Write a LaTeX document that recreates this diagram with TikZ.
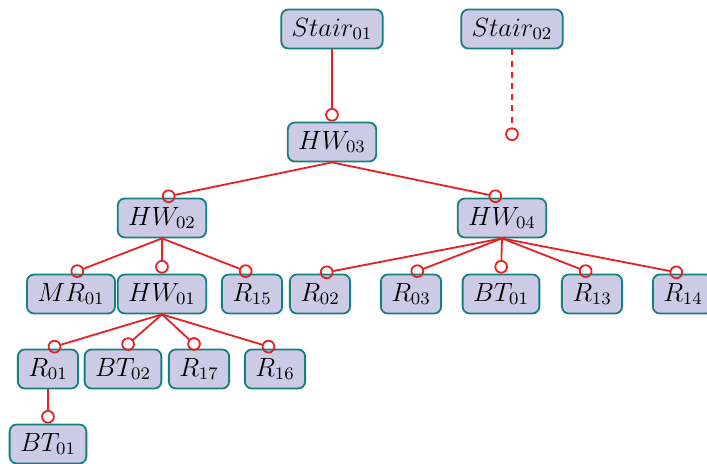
\documentclass[tikz,border=0pt]{standalone}
\usepackage{graphicx}
\usetikzlibrary{arrows.meta}
\definecolor{nodefill}{RGB}{204,202,228}
\definecolor{nodeline}{RGB}{20,128,128}
\definecolor{edgered}{RGB}{232,32,36}
\newcommand\lbl[1]{\scalebox{1.1}{$#1$}}
\begin{document}
\begin{tikzpicture}[x=0.5pt,y=-0.5pt,
  box/.style={draw=nodeline, fill=nodefill, line width=0.9pt, rounded corners=3.5pt,
    minimum height=19.5pt, inner xsep=5.2pt, inner ysep=2pt, font=\large},
  link/.style={draw=edgered, line width=0.9pt, -{Circle[open,length=6.8pt,width=6.8pt,line width=0.9pt]}},
]
\useasboundingbox (0,0) rectangle (707,464);
\node[box] (s1) at (332,29) {\lbl{Stair_{01}}};
\node[box] (s2) at (512,29) {\lbl{Stair_{02}}};
\coordinate (s2e) at (512,141);
\node[box] (hw3) at (332,142) {\lbl{HW_{03}}};
\node[box] (hw2) at (162,218) {\lbl{HW_{02}}};
\node[box] (hw4) at (502,218) {\lbl{HW_{04}}};
\node[box] (mr1) at (71,294) {\lbl{MR_{01}}};
\node[box] (hw1) at (162,294) {\lbl{HW_{01}}};
\node[box] (r15) at (252,294) {\lbl{R_{15}}};
\node[box] (r02) at (320,294) {\lbl{R_{02}}};
\node[box] (r03) at (411,294) {\lbl{R_{03}}};
\node[box] (bt1a) at (501,294) {\lbl{BT_{01}}};
\node[box] (r13) at (592,294) {\lbl{R_{13}}};
\node[box] (r14) at (683,294) {\lbl{R_{14}}};
\node[box] (r01) at (48,369) {\lbl{R_{01}}};
\node[box] (bt2) at (123,369) {\lbl{BT_{02}}};
\node[box] (r17) at (199,369) {\lbl{R_{17}}};
\node[box] (r16) at (275,369) {\lbl{R_{16}}};
\node[box] (bt1b) at (48,444) {\lbl{BT_{01}}};
\draw[link] (s1.south) -- (hw3.north);
\draw[link, dash pattern=on 3pt off 2.6pt] (s2.south) -- (s2e);
\draw[link] (hw3.south) -- (hw2.north);
\draw[link] (hw3.south) -- (hw4.north);
\draw[link] (hw2.south) -- (mr1.north);
\draw[link] (hw2.south) -- (hw1.north);
\draw[link] (hw2.south) -- (r15.north);
\draw[link] (hw4.south) -- (r02.north);
\draw[link] (hw4.south) -- (r03.north);
\draw[link] (hw4.south) -- (bt1a.north);
\draw[link] (hw4.south) -- (r13.north);
\draw[link] (hw4.south) -- (r14.north);
\draw[link] (hw1.south) -- (r01.north);
\draw[link] (hw1.south) -- (bt2.north);
\draw[link] (hw1.south) -- (r17.north);
\draw[link] (hw1.south) -- (r16.north);
\draw[link] (r01.south) -- (bt1b.north);
\end{tikzpicture}
\end{document}
